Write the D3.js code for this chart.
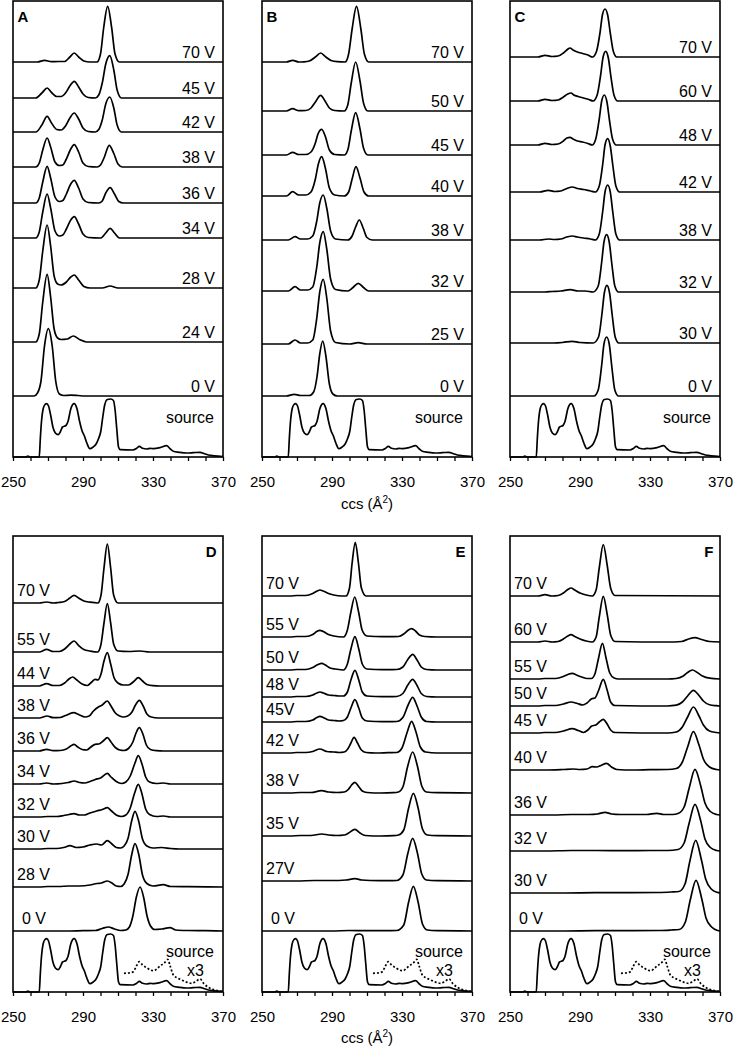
<!DOCTYPE html>
<meta charset="utf-8">
<style>
html, body { margin: 0; padding: 0; background: #fff; }
svg text { font-family: "Liberation Sans", Arial, Helvetica, sans-serif; fill: #000; }
.trace { fill: none; stroke: #000; stroke-width: 1.7px; stroke-linejoin: round; }
.x3 { stroke-dasharray: 2,2; }
.frame { fill: none; stroke: #000; stroke-width: 1.6px; }
.tick line { stroke: #000; stroke-width: 1.3px; }
</style>
<svg id="chart" width="733" height="1047"></svg>
<script src="https://cdn.jsdelivr.net/npm/d3@7"></script>
<script>

// x axis (ccs, A^2)
var ccsTicks = [250, 290, 330, 370];

// source spectrum, same in every panel
var sourceTrace = [[250,0],[257.5,0],[258.5,1],[259.5,0],[265,0],[265.6,18],[266.3,36],[267.2,48],[268.3,52.5],[269.2,53.3],[270.3,51],[271.5,42],[272.8,30],[274.2,24],[275.8,22.3],[277,25],[278.3,30],[280.3,31.5],[281.5,36],[283,48],[284.9,53.3],[286.6,48],[288,36],[289.5,26],[290.8,21],[292.2,14],[293.9,8.3],[295.8,10],[297.5,13],[298.8,18],[300.2,26],[301.3,40],[302.4,52],[303.9,57.5],[305.8,58],[307.4,56.5],[308.4,46],[309.3,28],[310.3,10],[311.3,7.3],[318.5,7],[320.5,8.5],[322.2,10.7],[324,8.7],[326.5,8],[328.5,8.7],[330.2,8.3],[334,9.3],[337.8,11.3],[339.6,8.5],[341.6,5.7],[345,4.7],[349.2,4],[353,4.3],[356.9,4.7],[359,3.5],[361.6,2],[365,1.2],[370,0.5]];
// x3 expansion of the source tail (panels D-F)
var sourceX3 = [[313.4,18.7],[316,19],[318.8,20.3],[320.5,26],[322.2,30.3],[324,27],[326.4,24.3],[328.5,22],[330.6,21.3],[332.5,23.5],[334,26],[336.5,29],[338.4,32.7],[339.8,26],[341.6,17],[344,14],[346.4,12],[349,10],[352.1,8.7],[354.5,10.5],[356.9,13],[359,8.5],[361.6,4.7],[364.5,2.5],[367,1.3],[370,0.7]];

// ---- panel A
var labelsA = ["70 V", "45 V", "42 V", "38 V", "36 V", "34 V", "28 V", "24 V", "0 V"];
var offsetsA = [395, 359, 325, 290, 254, 219, 169, 115, 61];
var tracesA = [
  [[250,0],[264,0],[268,1.7],[272,0.3],[276,0.5],[279.5,0.5],[282.5,5],[285,9],[287.5,5],[290.5,1],[294,0],[298,0],[300,8],[301.8,34],[304.1,55.7],[306.4,34],[308.3,8],[310.8,0],[370,0]],
  [[250,0],[263,0],[266.5,5],[269.5,10],[272,5.5],[275,1.5],[277.5,1.5],[280,5],[282.5,12],[285,16.7],[287.5,11],[290,4],[293,0.5],[297,0],[299,3],[301,15],[303,34],[305.3,42.3],[307.6,28],[309.5,8],[312,0],[370,0]],
  [[250,0],[263,0],[266.5,7],[269.5,15.7],[272,9],[275,2.5],[277.5,2],[280,6],[282.5,14],[285,19],[287.5,13],[290,4],[293,0.5],[297,0],[299,2.5],[301,12],[303,28],[305.3,35],[307.6,24],[309.5,7],[312,0],[370,0]],
  [[250,0],[263,0],[265,4],[267,17],[269.5,29],[271.5,20],[274,5],[276.5,1.5],[278.5,2],[280.5,8],[283,18],[285,22.3],[287.5,15],[290,4],[293,0.5],[298,0],[300,2],[302,9],[305,21.7],[307.5,14],[310,3],[312.5,0],[370,0]],
  [[250,0],[263,0],[265,5],[267,21],[269.5,36.7],[271.5,25],[274,6],[276.5,1.5],[278.5,2.5],[280.5,9],[283,19],[285,22.7],[287.5,15],[290,4],[293,0.5],[299,0],[301,2],[303,10],[305.5,15.3],[308,9],[310.5,1.5],[313,0],[370,0]],
  [[250,0],[263,0],[265,6],[267,26],[269.5,44],[271.5,30],[274,7],[276.5,2],[278.5,3],[280.5,9],[283,18],[285,21.3],[287.5,14],[290,4],[293,0.5],[300,0],[303,5],[305.5,9.7],[308,5],[311,0],[370,0]],
  [[250,0],[263,0],[265,8],[267,37],[269.5,63],[271.5,42],[273.5,12],[275.5,4],[277.5,3],[280.5,6],[283,11],[285,13],[287.5,8],[290.5,1.5],[294,0],[301,0],[305.5,2],[310,0],[370,0]],
  [[250,0],[263,0],[265,8],[267,40],[269.5,67.7],[271.5,45],[273.5,13],[275.5,4],[277.5,2.5],[281,3],[284.5,6],[288,2.5],[292,0],[370,0]],
  [[250,0],[262,0],[264,3],[266,15],[268,50],[270.2,67.3],[272.4,50],[274.4,15],[276.5,2],[279,0.5],[283,0.8],[287,0.5],[291,0],[370,0]]
];

// ---- panel B
var labelsB = ["70 V", "50 V", "45 V", "40 V", "38 V", "32 V", "25 V", "0 V"];
var offsetsB = [395, 346, 302, 261, 217, 166, 113, 61];
var tracesB = [
  [[250,0],[264,0],[267.5,1.7],[271,0],[274,0.2],[277,1],[280.5,5],[283.5,9],[286.5,5],[289.5,1.5],[293,0.3],[297.5,0],[299.5,8],[301.5,33],[304,55.7],[306.5,33],[308.5,8],[311,0],[370,0]],
  [[250,0],[264,0],[267.5,2.3],[271,0.3],[275,0.5],[278,3],[280.5,9],[283.5,15.7],[286,10],[288.5,3],[291.5,0.5],[297,0],[299,6],[301,28],[303.5,49],[306,30],[308,8],[310.5,0],[370,0]],
  [[250,0],[264,0],[267.5,2.7],[271,0.5],[275,0.5],[278,3],[280.5,12],[282,21],[284.1,25.7],[286.3,18],[288.5,5],[291.5,0.5],[297,0],[299,5],[301,24],[303.5,42.3],[306,26],[308,7],[310.5,0],[370,0]],
  [[250,0],[264,0],[267.5,4.3],[271,1],[275,1],[278,4],[280.5,17],[282.2,32],[284.1,39.3],[286.2,28],[288.5,8],[291.5,1],[297,0],[299.5,4],[301.5,17],[303.7,29.3],[306,18],[308.3,4],[311,0],[370,0]],
  [[250,0],[265,0],[268.9,3.3],[272,1],[276,1],[279,4],[281.3,19],[283,37],[285,45],[287,32],[289.2,9],[292,1],[299,0],[301.5,4],[303.5,13],[305.6,20],[307.8,12],[310,2.5],[313,0],[370,0]],
  [[250,0],[265,0],[268.9,4.3],[272,1],[276,1],[279,4],[281.3,24],[283,48],[285,59.3],[287,42],[289.2,12],[292,1.5],[299,0],[302,3.5],[305,7.7],[308,3.5],[311,0],[370,0]],
  [[250,0],[265,0],[268.9,4],[272,1],[276,1],[279,4],[281.3,26],[283,52],[285,64.7],[287,46],[289.2,13],[292,1.5],[300,0],[305,1.3],[310,0],[370,0]],
  [[250,0],[264,0],[268.5,1.7],[272,0.5],[277,0.5],[279.5,4],[281.5,20],[283,42],[284.7,55],[286.5,40],[288.5,12],[290.5,2],[293,0],[370,0]]
];

// ---- panel C
var labelsC = ["70 V", "60 V", "48 V", "42 V", "38 V", "32 V", "30 V", "0 V"];
var offsetsC = [400, 356, 312, 265, 217, 165, 114, 61];
var tracesC = [
  [[250,0],[266,0],[270,1.7],[274,0.5],[277.5,1],[280.5,4],[282.8,7.5],[284.3,9],[286,7],[288.5,5],[291.5,3.5],[294.5,2],[297.2,0],[299.5,6],[301.5,25],[302.8,42],[304.3,48],[305.8,42],[307.3,24],[309,6],[311,0],[370,0]],
  [[250,0],[266,0],[270,1.7],[274,0.5],[277.5,1],[280.5,4],[283,7],[284.9,8],[286.5,6],[289,4.5],[292,3],[295,1.5],[297.5,0],[299.8,6],[301.8,26],[303.2,44],[304.7,49.7],[306.2,43],[307.7,24],[309.4,6],[311.5,0],[370,0]],
  [[250,0],[266,0],[270,1.7],[274,0.5],[277.5,1],[280.5,4],[282.5,7],[284.3,7.7],[286,6],[288.5,4],[291.5,3],[294.5,1.5],[297,0],[299,6],[301,26],[302.4,44],[303.9,50],[305.4,43],[306.9,24],[308.6,6],[310.7,0],[370,0]],
  [[250,0],[267,0],[271.9,1.7],[275.5,0.5],[279,1],[282.5,3.5],[285.6,5],[288.5,3.5],[292,2.5],[296,1],[298.8,0],[301,6],[303,28],[304.3,47],[305.8,53.3],[307.3,46],[308.8,26],[310.5,6],[312.6,0],[370,0]],
  [[250,0],[267,0],[271.9,1],[275.5,0.5],[279,1],[282.5,3],[285.6,4],[288.5,3],[292,2],[296,1],[298.8,0],[301,6],[303,29],[304.3,48],[305.8,55],[307.3,48],[308.8,27],[310.5,6],[312.6,0],[370,0]],
  [[250,0],[270,0],[274,0.5],[279,1],[284.5,2.3],[289,1],[293,1],[297.5,0],[300.4,6],[302.4,30],[303.7,50],[305.2,57.3],[306.7,50],[308.2,28],[309.9,6],[312,0],[370,0]],
  [[250,0],[275,0],[280,0.5],[285.5,1.7],[290,0.5],[297.5,0],[300.6,6],[302.6,30],[303.9,50],[305.4,57.7],[306.9,50],[308.4,28],[310.1,6],[312.2,0],[370,0]],
  [[250,0],[298,0],[300.4,6],[302.4,31],[303.7,52],[305.2,59],[306.7,52],[308.2,29],[309.9,6],[312,0],[370,0]]
];

// ---- panel D
var labelsD = ["70 V", "55 V", "44 V", "38 V", "36 V", "34 V", "32 V", "30 V", "28 V", "0 V"];
var offsetsD = [389, 340, 306, 274, 241, 208, 175, 143, 105, 61];
var tracesD = [
  [[250,0],[265,0],[269.2,1],[273,0],[276,0.5],[279.5,1.5],[282.5,5],[284.9,7.7],[287.5,5],[290.5,2],[294,0.8],[298.5,0],[300.3,8],[302,35],[303.9,59],[305.8,35],[307.5,8],[310,0],[370,0]],
  [[250,0],[265,0],[269.2,2.7],[273,0.5],[276.5,0.5],[279.5,3],[282.5,8],[284.9,11],[287.5,6.5],[290.5,2.5],[294,1],[298.3,0],[300.2,7],[302,29],[303.9,48.3],[305.8,29],[307.5,8],[310,1],[316,0.5],[322.6,1],[328,0],[370,0]],
  [[250,0],[265,0],[269.2,2.3],[273,0.5],[276.5,0.5],[279.5,3],[282,7],[284.1,9],[286.5,6],[289.5,2],[292.5,0.5],[295,4],[296.9,6.7],[298.5,6],[300.3,12],[302,25],[303.9,33.3],[305.8,22],[307.8,8],[310,3],[313,1],[316,1],[319,4.5],[321.6,8.3],[324,5],[326.5,1.5],[330,0.3],[334,0],[370,0]],
  [[250,0],[265,0],[269.5,2],[273,0.3],[277,0.5],[280,2.5],[284.5,5.3],[288,3],[291,1],[293.5,2],[296,7],[298.8,11],[301,13],[303.9,17],[306,12],[308.5,5],[311,2],[313,1],[315.5,2],[318,6],[320,13],[322.2,17.7],[324.4,12],[326.5,4],[329,1],[333,0],[370,0]],
  [[250,0],[265,0],[269.2,1.7],[273,0.3],[277,0.5],[280.5,2],[283,5],[284.9,6.7],[287,4],[289.5,1.5],[292,1],[294.5,4],[296.9,6.7],[299,7],[301.5,10],[303.9,13.3],[306,9],[308.5,3.5],[311,1],[313.4,0.5],[316,2.5],[318.5,9],[320.3,18],[322.2,23.3],[324.2,17],[326.2,6],[328.5,1.5],[332,0.3],[336,0],[370,0]],
  [[250,0],[265,0],[269.2,1],[273,0],[278,0.5],[281.5,1.5],[284.9,3],[288,1.5],[291,1],[294,2.5],[297,4.5],[300,6],[303.9,10.7],[306,7],[309,2.5],[312,0.5],[314.5,2],[317,8],[319.5,20],[321.6,28.3],[323.7,20],[325.8,7],[328,2],[332,0.5],[336,1],[340,0],[370,0]],
  [[250,0],[265,0],[270,0.5],[275,0.5],[279,1.5],[282,2.5],[284.9,3.3],[288,2],[291,2],[294,4],[297.8,6],[301,7.5],[303.9,9.3],[306,6.5],[309,2],[312,0.5],[314.5,2],[317,9],[319.5,24],[321.6,32.7],[323.7,23],[325.8,8],[328,2.5],[332,0.5],[336,1],[340,0],[370,0]],
  [[250,0],[265,0],[270,0.5],[275,0.5],[279,1.5],[282.6,3.3],[286,1.5],[290,2],[294,4],[297.8,5],[300.5,4],[303.9,8.3],[306.5,5],[309,1.5],[311.5,1],[313.5,3],[315.8,11],[317.8,28],[319.7,37.7],[321.8,28],[324,10],[326.5,3],[330,1],[335,1.5],[340,0.5],[345,0],[370,0]],
  [[250,0],[265,0],[270,0.5],[276,0.5],[282,1],[288,1],[294,2],[298,3.5],[300.5,4],[303.9,6],[306.5,4],[309,1],[311.5,0.5],[313.5,3],[315.8,13],[317.8,32],[319.7,43.3],[321.8,33],[324,12],[326.5,3.5],[330,1],[335.9,2.3],[340,0.5],[350,0.3],[370,0]],
  [[250,0],[280,0],[290,0.3],[297,0.5],[301,2.5],[304.5,4],[308,2],[311.5,0.5],[314.5,1],[316.5,4],[318.5,15],[320.5,34],[322.6,44],[324.6,34],[326.6,15],[328.6,5],[331,1.5],[335,2],[339.7,3.3],[343,1],[350,0.5],[360,0.3],[370,0]]
];

// ---- panel E
var labelsE = ["70 V", "55 V", "50 V", "48 V", "45V", "42 V", "38 V", "35 V", "27V", "0 V"];
var offsetsE = [396, 355, 322, 295, 270, 239, 199, 156, 111, 61];
var tracesE = [
  [[250,0],[266,0],[270,0.5],[275,0.5],[279,2.5],[281.5,5],[283.1,6],[285,5],[288,2.5],[291,1],[295.5,0],[298,0],[300,8],[301.5,33],[303.3,53.7],[305.1,33],[306.8,8],[309.5,0],[370,0]],
  [[250,0],[266,0],[270,0.5],[275,0.5],[279,2.5],[281.3,5.5],[283.1,6.7],[285,5.5],[288,2.5],[291,1],[296.5,0],[298.8,7],[300.8,25],[303,40],[305.2,25],[307.2,7],[310,1],[315,0.5],[322,0.3],[328,0.5],[331,3],[333.3,6.5],[335.5,8.3],[337.7,6],[340,2],[343,0.5],[350,0],[370,0]],
  [[250,0],[266,0],[270,0.5],[275,0.5],[279,2.5],[282,5.5],[284.1,6.7],[286.2,5],[289,2],[292,1],[296.5,0],[298.8,6],[300.8,21],[303.1,33.3],[305.3,21],[307.3,6],[310,1],[315,0.5],[322,0.3],[327,0.5],[330.5,3],[333.5,11],[336.1,15.7],[338.6,10],[341,3],[344,0.5],[350,0],[370,0]],
  [[250,0],[266,0],[270,0.5],[275,0.5],[279,2],[281.3,4],[283.1,5],[285,4],[288,2],[291,1.5],[294,1],[296.5,1],[298.8,5],[300.8,17],[303.1,26.7],[305.3,17],[307.3,5],[310,1],[315,0.5],[322,0.3],[327,0.5],[330.5,3.5],[333.5,12.5],[336.1,17.7],[338.6,11.5],[341,3.5],[344,0.5],[350,0],[370,0]],
  [[250,0],[266,0],[270,0.5],[275,0.5],[279,2],[281.3,4.5],[283.1,5.7],[285,4.5],[288,2],[291,1.5],[294,1],[296.5,1.5],[298.8,5],[300.8,14],[303.1,22.3],[305.3,14],[307.3,4],[310,1],[315,0.5],[322,0.3],[327,0.5],[330.5,4.5],[333.5,17],[336.1,24.7],[338.6,16],[341,5],[344,0.5],[350,0],[370,0]],
  [[250,0],[266,0],[270,0.5],[275,0.5],[279,1.5],[283.1,4],[287,1.5],[291,1],[294,0.5],[297,1],[299,4],[300.8,10],[302.6,15.7],[304.6,10],[306.8,3],[309.5,0.5],[315,0],[322,0.3],[327,0.5],[330,5],[333,21],[335.5,31.7],[338,21],[340.5,6],[343.5,1],[350,0],[370,0]],
  [[250,0],[266,0],[272,0.5],[278,0.5],[284.1,2.3],[288,1],[293,0.5],[297,1],[299.3,3.5],[301.2,8],[303.1,10.7],[305,7],[307.3,2],[310,0.5],[318,0],[325,0.3],[328,1],[330.5,6],[333.3,27],[336.1,41],[338.8,27],[341.3,7],[344,1],[350,0.3],[370,0]],
  [[250,0],[266,0],[272,0.5],[278,0.5],[284.1,2],[288,1],[293,0.5],[297,1],[299.5,3],[303.1,6.7],[306,3],[309,0.5],[318,0],[325,0.3],[328,1],[331,6],[333.8,28],[336.5,42.7],[339.2,28],[341.7,7],[344.5,1],[350,0.3],[370,0]],
  [[250,0],[270,0],[280,0.5],[290,0.5],[298,1],[303.1,2.3],[307,1],[312,0.5],[322,0.3],[327,0.5],[330.5,6],[333.4,28],[336.1,42.7],[338.8,28],[341.3,7],[344,1],[350,0.3],[370,0]],
  [[250,0],[290,0],[300,0.5],[310,0.3],[320,0.3],[327,0.5],[331,6],[333.8,29],[336.5,44.7],[339.2,29],[341.7,7],[344.5,1],[350,0.3],[370,0]]
];

// ---- panel F
var labelsF = ["70 V", "60 V", "55 V", "50 V", "45 V", "40 V", "36 V", "32 V", "30 V", "0 V"];
var offsetsF = [396, 350, 313, 286, 259, 222, 177, 141, 99, 61];
var tracesF = [
  [[250,0],[266,0],[270,1.3],[274,0],[277.5,0.5],[280.5,3],[283,6.5],[284.9,8],[287,6],[290,3],[293.5,1],[297,0],[299.2,6],[301,28],[303.3,51.3],[305.6,30],[307.5,8],[310,0.5],[370,0]],
  [[250,0],[266,0],[270,1],[274,0],[277.5,0.5],[280.5,3],[283,6],[284.9,7.3],[287,5.5],[290,3],[293.5,1],[297,0],[299.2,5],[301,25],[303.3,45.7],[305.6,27],[307.5,7],[310,0.5],[340,0],[348,0.5],[352,3],[355.7,4.3],[359.5,2.5],[364,0.5],[370,0]],
  [[250,0],[266,0],[270,0.5],[276,0.5],[280.5,2.5],[283,4.5],[285.6,5.7],[288,4],[291,2],[294,0.5],[296.5,0.5],[298.5,5],[300.5,20],[302.8,35.7],[305,20],[307,6],[309.5,1],[312,0],[340,0],[345,0.5],[349,3],[351.5,6.5],[354.2,9],[357,6.5],[360,3],[364,0.8],[370,0]],
  [[250,0],[266,0],[270,0.5],[276,0.5],[280.5,2],[284.9,4],[288.5,2.5],[291.5,1],[294,3],[296.7,7.3],[298.5,8],[300.5,15],[303.3,26.7],[305.5,16],[307.5,4],[310,0.5],[340,0],[345,0.8],[348.5,4],[351.5,10],[354.8,15.7],[358,10.5],[360.5,5],[364,1.2],[368,0.3],[370,0]],
  [[250,0],[266,0],[270,0.5],[276,0.5],[280.5,2],[285.6,4.3],[289,2.5],[292,0.5],[294.5,3],[296.7,7],[299,8],[301,11],[303.3,13.7],[305.5,9],[307.5,3],[310,0.5],[340,0],[345,1],[348.5,6],[351.5,16],[354.8,26],[358,17],[360.5,8],[364,2],[368,0.5],[370,0]],
  [[250,0],[270,0],[280,0.5],[286,1],[290,0.5],[294,1],[297,3.3],[299.5,3],[302,4.5],[305.2,6.7],[308,3],[311,0.5],[320,0],[330,0.3],[340,0.5],[345,1.5],[348.5,8],[351.5,23],[354.8,38.3],[358,25],[360.5,11],[364,3],[368,0.5],[370,0]],
  [[250,0],[275,0],[285,0.5],[295,0.5],[300,1],[304.3,2.7],[308,1],[313,0.5],[320,0.5],[328,0.5],[333.8,1.7],[338,0.5],[343,0.5],[346,1.5],[349.5,8],[352.4,27],[355.7,45.7],[359,29],[361.4,12],[364.5,3.5],[368,0.5],[370,0]],
  [[250,0],[270,0],[285,0.5],[300,0.5],[315,0.3],[330,0.5],[340,0.5],[346,1.5],[349.5,8],[352.4,28],[355.7,46.7],[359,30],[361.4,12],[364.5,3.5],[368,0.5],[370,0]],
  [[250,0],[280,0],[300,0.3],[320,0.3],[335,0.5],[342,1],[346.5,1.5],[350,9],[352.8,32],[356.1,52.7],[359.4,33],[361.8,14],[365,4],[368.5,0.6],[370,0]],
  [[250,0],[280,0],[300,0.3],[320,0.3],[335,0.5],[342,1],[346.7,1.5],[350.2,9],[353,31],[356.3,50.7],[359.6,32],[362,13],[365.2,4],[368.7,0.5],[370,0]]
];

var panels = [
  {name: "A", labels: labelsA, offsets: offsetsA, traces: tracesA},
  {name: "B", labels: labelsB, offsets: offsetsB, traces: tracesB},
  {name: "C", labels: labelsC, offsets: offsetsC, traces: tracesC},
  {name: "D", labels: labelsD, offsets: offsetsD, traces: tracesD},
  {name: "E", labels: labelsE, offsets: offsetsE, traces: tracesE},
  {name: "F", labels: labelsF, offsets: offsetsF, traces: tracesF}
];

// layout
var panelW = 210, panelH = 456;
var lefts = [13, 262, 510], tops = [1, 536];

var svg = d3.select("#chart");

var x = d3.scaleLinear().domain([250, 370]).range([0, panelW]);
var y = d3.scaleLinear().domain([0, 456]).range([panelH, 0]);

var line = d3.line()
    .x(function(d) { return x(d[0]); })
    .y(function(d) { return y(d[1]); })
    .curve(d3.curveMonotoneX);

panels.forEach(function(p, i) {
    var bottomRow = i >= 3;
    var g = svg.append("g")
        .attr("transform", "translate(" + lefts[i % 3] + "," + tops[bottomRow ? 1 : 0] + ")");

    // stacked traces
    p.traces.forEach(function(t, k) {
        var off = p.offsets[k];
        g.append("path")
            .attr("class", "trace")
            .attr("d", line(t.map(function(d) { return [d[0], d[1] + off]; })));

        var lab = g.append("text")
            .attr("font-size", 16)
            .text(p.labels[k]);
        if (bottomRow) {
            lab.attr("x", p.labels[k] == "0 V" ? 9 : 4).attr("y", y(off) - 7);
        } else {
            lab.attr("text-anchor", "end").attr("x", panelW - 8).attr("y", y(off) - 4.5);
        }
    });

    // source spectrum
    g.append("path").attr("class", "trace").attr("d", line(sourceTrace));
    g.append("text")
        .attr("font-size", 16)
        .attr("text-anchor", "end")
        .attr("x", panelW - 9)
        .attr("y", y(0) - (bottomRow ? 35 : 34))
        .text("source");

    if (bottomRow) {
        g.append("path").attr("class", "trace x3").attr("d", line(sourceX3));
        g.append("text")
            .attr("font-size", 16)
            .attr("text-anchor", "end")
            .attr("x", panelW - 19)
            .attr("y", y(0) - 16)
            .text("x3");
    }

    // axis
    var axis = g.append("g")
        .attr("transform", "translate(0," + panelH + ")")
        .call(d3.axisBottom(x)
            .tickValues(d3.range(250, 371, 10))
            .tickSize(4)
            .tickSizeOuter(0)
            .tickPadding(15)
            .tickFormat(function(d) { return ccsTicks.indexOf(d) >= 0 ? d : ""; }));
    axis.select(".domain").remove();
    axis.selectAll("text")
        .attr("font-size", 15)
        .attr("font-family", "Liberation Sans, Arial, sans-serif");

    g.append("rect")
        .attr("class", "frame")
        .attr("width", panelW)
        .attr("height", panelH);

    // panel letter
    g.append("text")
        .attr("font-size", 15)
        .attr("font-weight", "bold")
        .attr("text-anchor", bottomRow ? "end" : "start")
        .attr("x", bottomRow ? panelW - 6.5 : 4.5)
        .attr("y", bottomRow ? 21 : 20.5)
        .text(p.name);

    // x label under middle column
    if (i % 3 == 1) {
        var xl = g.append("text")
            .attr("font-size", 15)
            .attr("text-anchor", "middle")
            .attr("x", panelW / 2)
            .attr("y", panelH + (bottomRow ? 51 : 52));
        xl.append("tspan").text("ccs (Å");
        xl.append("tspan").attr("font-size", 10).attr("dy", -6).text("2");
        xl.append("tspan").attr("dy", 6).text(")");
    }
});

</script>
